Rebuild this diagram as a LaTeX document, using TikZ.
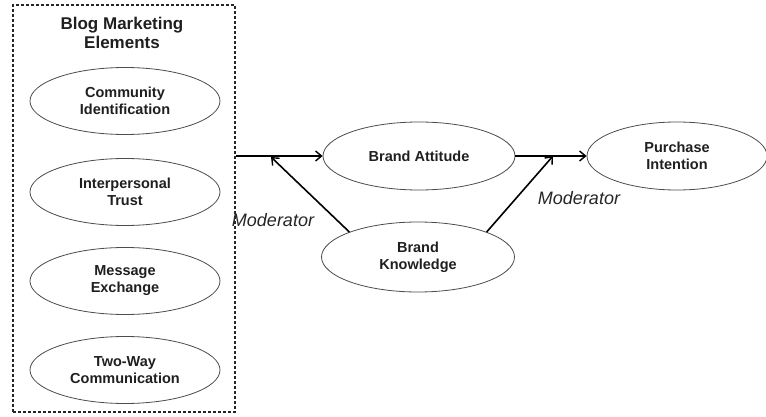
\documentclass[tikz,border=0pt]{standalone}
\usepackage{fontspec}
\setmainfont{Liberation Sans}
\usetikzlibrary{shapes.geometric,arrows.meta}
\begin{document}
\begin{tikzpicture}[x=1pt,y=-1pt,
  oval/.style={ellipse,draw=black!70,line width=0.8pt,minimum width=190pt,minimum height=67pt,inner sep=0pt,
    align=center,font=\fontsize{14.5}{17}\selectfont\bfseries,text=black!88},
  conn/.style={line width=1.6pt,-{Straight Barb[length=6pt,width=10pt,line width=1.4pt]}},
  modlabel/.style={font=\fontsize{18}{20}\selectfont\itshape,text=black!85},
  grp/.style={draw=black!85,dashed,line width=1.2pt,dash pattern=on 3pt off 2pt}]
\useasboundingbox (0,0) rectangle (766,417);
\node[grp,minimum width=222pt,minimum height=407pt,inner sep=0pt] (box) at (124,208.5) {};
\node[align=center,font=\fontsize{17}{19}\selectfont\bfseries,text=black!88] (title) at (122,33) {Blog Marketing\\Elements};
\node[oval] (ci) at (125,101) {Community\\Identification};
\node[oval] (it) at (125,192) {Interpersonal\\Trust};
\node[oval] (me) at (125,281) {Message\\Exchange};
\node[oval] (tw) at (125,370) {Two-Way\\Communication};
\node[oval,minimum width=192pt,minimum height=68pt] (ba) at (419,156) {Brand Attitude};
\node[oval,minimum width=193pt,minimum height=70pt] (bk) at (418,257) {Brand\\Knowledge};
\node[oval,minimum width=180pt,minimum height=68pt] (pi) at (677,156) {Purchase\\Intention};
\coordinate (m1) at (271,157);
\coordinate (m2) at (553,156);
\draw[conn] (box.east |- ba.west) -- (ba.west);
\draw[conn] (ba.east) -- (pi.west);
\draw[conn] (bk.160) -- (m1);
\draw[conn] (bk.20) -- (m2);
\node[modlabel] (l1) at (273,220) {Moderator};
\node[modlabel] (l2) at (579,198) {Moderator};
\end{tikzpicture}
\end{document}
